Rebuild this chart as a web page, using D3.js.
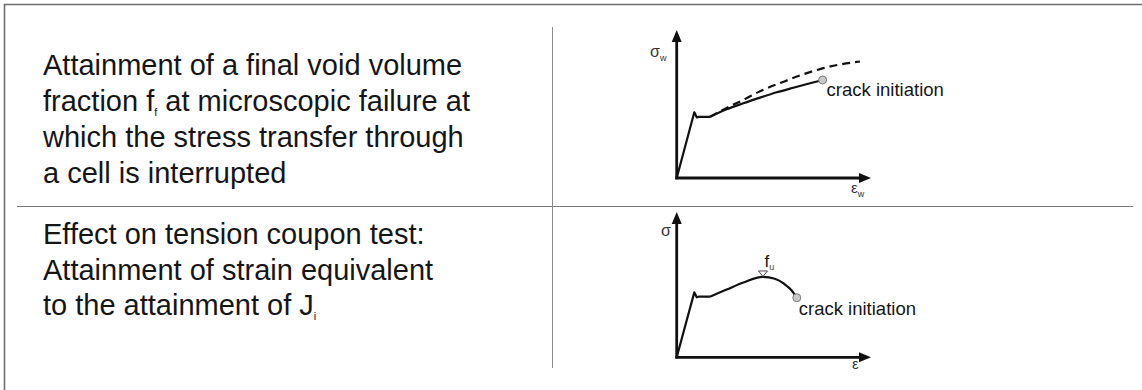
<!DOCTYPE html>
<html>
<head>
<meta charset="utf-8">
<script src="https://cdn.jsdelivr.net/npm/d3@7"></script>
<style>
  html, body { margin: 0; padding: 0; background: #fff; }
  svg { display: block; }
  text { font-family: "Liberation Sans", Arial, sans-serif; }
</style>
</head>
<body>
<svg id="chart" width="1142" height="390"></svg>
<script>
// ---- descriptive text of the two criteria ----
const topLines = [
  [{t: "Attainment of a final void volume"}],
  [{t: "fraction f"}, {t: "f", sub: true}, {t: " at microscopic failure at"}],
  [{t: "which the stress transfer through"}],
  [{t: "a cell is interrupted"}]
];
const bottomLines = [
  [{t: "Effect on tension coupon test:"}],
  [{t: "Attainment of strain equivalent"}],
  [{t: "to the attainment of J"}, {t: "i", sub: true}]
];

// ---- schematic curves (strain, stress), both axes 0..100 ----
// cell model: elastic rise, upper yield peak, Lüders plateau
const cellYield = [[0, 0], [9.06, 44.4], [10.4, 40.9], [11.4, 41.3], [17.1, 41.3]];
// cell model: hardening up to crack initiation
const cellHardening = [[17.1, 41.3], [25.7, 46.4], [34.3, 50.5], [42.9, 54.3], [51.5, 57.9],
                       [60.0, 61.0], [68.6, 64.0], [75.1, 66.2]];
// cell model without damage (dashed)
const cellNoDamage = [[17.1, 41.3], [25.7, 47.3], [34.3, 52.8], [42.9, 58.6], [54.7, 64.9],
                      [63.5, 69.3], [73.8, 73.6], [84.0, 76.7], [94.3, 78.7]];
const cellCrack = [75.1, 66.2];

// tension coupon: elastic rise, yield peak, plateau
const couponYield = [[0, 0], [9.06, 44.7], [10.3, 41.3], [11.3, 41.7], [17.1, 41.7]];
// tension coupon: hardening, maximum load, softening to crack initiation
const couponHardening = [[17.1, 41.7], [25.7, 46.6], [34.3, 51.5], [44.4, 55.3], [50.5, 54.1],
                         [55.4, 50.5], [59.2, 46.0], [61.8, 41.0]];
const couponMax = [44.4, 55.3];
const couponCrack = [61.8, 41.0];

const svg = d3.select("#chart");

// ---- table frame ----
const frame = svg.append("g").attr("fill", "none");
frame.append("line").attr("x1", 4).attr("y1", 4.5).attr("x2", 1142).attr("y2", 4.5)
  .attr("stroke", "#6e6e6e").attr("stroke-width", 1.6);
frame.append("line").attr("x1", 4.5).attr("y1", 4).attr("x2", 4.5).attr("y2", 390)
  .attr("stroke", "#6e6e6e").attr("stroke-width", 1.6);
frame.append("line").attr("x1", 17).attr("y1", 206.5).attr("x2", 1133).attr("y2", 206.5)
  .attr("stroke", "#7a7a7a").attr("stroke-width", 1.2);
frame.append("line").attr("x1", 552.5).attr("y1", 27).attr("x2", 552.5).attr("y2", 368)
  .attr("stroke", "#8a8a8a").attr("stroke-width", 1);

// ---- left column text ----
function drawLines(lines, x, y0, dy) {
  const g = svg.append("g").attr("fill", "#161616").attr("font-size", 29);
  lines.forEach((parts, i) => {
    const t = g.append("text").attr("x", x).attr("y", y0 + i * dy);
    parts.forEach(p => {
      if (p.sub) {
        t.append("tspan").attr("font-size", 11).attr("dy", 5).text(p.t);
      } else {
        const s = t.append("tspan").text(p.t);
        if (t.selectAll("tspan").size() > 1) s.attr("dy", -5);
      }
    });
  });
}
drawLines(topLines, 43, 75, 36);
drawLines(bottomLines, 43, 244, 35.5);

// ---- helpers for the small diagrams ----
function diagram(opts) {
  const x = d3.scaleLinear().domain([0, 100]).range([opts.x0, opts.x1]);
  const y = d3.scaleLinear().domain([0, 100]).range([opts.y0, opts.y1]);
  const g = svg.append("g");

  // axes with arrow heads
  g.append("line").attr("x1", x(0)).attr("y1", y(0) + 1.2).attr("x2", x(0)).attr("y2", y(100) + 8)
    .attr("stroke", "#111").attr("stroke-width", 2.8);
  g.append("line").attr("x1", x(0) - 1.4).attr("y1", y(0)).attr("x2", x(100) - 8).attr("y2", y(0))
    .attr("stroke", "#111").attr("stroke-width", 2.8);
  g.append("path")
    .attr("d", `M${x(0)},${y(100)} L${x(0) - 5},${y(100) + 12} L${x(0) + 5},${y(100) + 12} Z`)
    .attr("fill", "#111");
  g.append("path")
    .attr("d", `M${x(100)},${y(0)} L${x(100) - 12},${y(0) - 5} L${x(100) - 12},${y(0) + 5} Z`)
    .attr("fill", "#111");

  const lin = d3.line().x(d => x(d[0])).y(d => y(d[1]));
  const smooth = d3.line().curve(d3.curveMonotoneX).x(d => x(d[0])).y(d => y(d[1]));

  if (opts.dashed) {
    g.append("path").datum(opts.dashed).attr("d", smooth)
      .attr("fill", "none").attr("stroke", "#111").attr("stroke-width", 2.2)
      .attr("stroke-dasharray", "8,5");
  }
  g.append("path").datum(opts.yieldPart).attr("d", lin)
    .attr("fill", "none").attr("stroke", "#111").attr("stroke-width", 2.2)
    .attr("stroke-linejoin", "round");
  g.append("path").datum(opts.hardening).attr("d", smooth)
    .attr("fill", "none").attr("stroke", "#111").attr("stroke-width", 2.2);

  // crack initiation point
  g.append("circle").attr("cx", x(opts.crack[0])).attr("cy", y(opts.crack[1])).attr("r", 4)
    .attr("fill", "#c9c9c9").attr("stroke", "#7a7a7a").attr("stroke-width", 1);
  g.append("text").attr("x", x(opts.crack[0]) + opts.crackDx).attr("y", y(opts.crack[1]) + opts.crackDy)
    .attr("font-size", 18.5).attr("fill", "#161616").text("crack initiation");

  // axis labels
  const yl = g.append("text").attr("x", opts.yLabel[0]).attr("y", opts.yLabel[1])
    .attr("font-size", 16).attr("fill", "#333");
  yl.append("tspan").text("σ");
  if (opts.sub) yl.append("tspan").attr("font-size", 9).attr("dy", 4).text(opts.sub);
  const xl = g.append("text").attr("x", opts.xLabel[0]).attr("y", opts.xLabel[1])
    .attr("font-size", 15).attr("fill", "#333");
  xl.append("tspan").text("ε");
  if (opts.sub) xl.append("tspan").attr("font-size", 9).attr("dy", 4).text(opts.sub);

  return {g, x, y};
}

diagram({
  x0: 676.7, x1: 871, y0: 178, y1: 30,
  yieldPart: cellYield, hardening: cellHardening, dashed: cellNoDamage,
  crack: cellCrack, crackDx: 4, crackDy: 15.5,
  yLabel: [650, 57], xLabel: [851, 193], sub: "w"
});

const bottom = diagram({
  x0: 676.7, x1: 871, y0: 357.3, y1: 212,
  yieldPart: couponYield, hardening: couponHardening,
  crack: couponCrack, crackDx: 2, crackDy: 17.5,
  yLabel: [661, 236], xLabel: [852, 369]
});

// maximum load marker f_u
const mx = bottom.x(couponMax[0]), my = bottom.y(couponMax[1]);
bottom.g.append("path")
  .attr("d", `M${mx},${my - 0.5} L${mx - 4.5},${my - 6} L${mx + 4.5},${my - 6} Z`)
  .attr("fill", "#fff").attr("stroke", "#333").attr("stroke-width", 0.9);
const fu = bottom.g.append("text").attr("x", mx + 1.5).attr("y", my - 10)
  .attr("font-size", 17).attr("fill", "#161616");
fu.append("tspan").text("f");
fu.append("tspan").attr("font-size", 9).attr("dy", 3).attr("fill", "#444").text("u");
</script>
</body>
</html>
